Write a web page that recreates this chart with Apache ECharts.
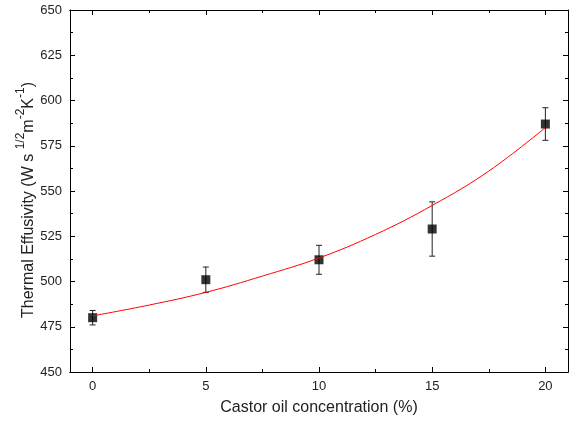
<!DOCTYPE html>
<html>
<head>
<meta charset="utf-8">
<script src="https://cdn.jsdelivr.net/npm/echarts@6/dist/echarts.min.js"></script>
<style>
  html, body { margin: 0; padding: 0; background: #fff; }
  #chart { width: 570px; height: 424px; }
</style>
</head>
<body>
<div id="chart"></div>
<script>
// measured points
var conc = [0, 5, 10, 15, 20];
var effusivity = [480, 501, 512, 529, 587];
var errLow = [476, 494, 504, 514, 578];
var errHigh = [484, 508, 520, 544, 596];

// fitted curve
var fitX = [0, 2.5, 5, 7.5, 10, 12.5, 15, 17.5, 20];
var fitY = [481, 487, 494, 503, 513, 526, 542, 561, 585];

var xMajor = [0, 5, 10, 15, 20];
var xMinor = [2.5, 7.5, 12.5, 17.5];

var font = 'Liberation Sans, Arial, sans-serif';

var points = [];
var bars = [];
for (var i = 0; i < conc.length; i++) {
  points.push([conc[i], effusivity[i]]);
  bars.push([conc[i], errLow[i], errHigh[i]]);
}
var fit = [];
for (var j = 0; j < fitX.length; j++) {
  fit.push([fitX[j], fitY[j]]);
}

var myChart = echarts.init(document.getElementById('chart'));

function xAx(pos, ticks, len, labels) {
  return {
    type: 'value', position: pos, min: -1, max: 21,
    axisLine: { show: true, onZero: false, lineStyle: { color: '#000', width: 1 } },
    axisTick: { show: true, inside: true, length: len, customValues: ticks, lineStyle: { color: '#000' } },
    axisLabel: { show: labels, customValues: ticks, margin: 8, fontSize: 13, color: '#222', fontFamily: font },
    splitLine: { show: false }
  };
}
function yAx(pos, labels) {
  return {
    type: 'value', position: pos, min: 450, max: 650, interval: 25,
    axisLine: { show: true, onZero: false, lineStyle: { color: '#000', width: 1 } },
    axisTick: { show: true, inside: true, length: 5, lineStyle: { color: '#000' } },
    minorTick: { show: true, splitNumber: 2, length: 3, lineStyle: { color: '#000' } },
    axisLabel: { show: labels, margin: 8, fontSize: 13, color: '#222', fontFamily: font },
    splitLine: { show: false }
  };
}

var xAxes = [xAx('bottom', xMajor, 5, true), xAx('bottom', xMinor, 3, false),
             xAx('top', xMajor, 5, false), xAx('top', xMinor, 3, false)];
xAxes[0].name = 'Castor oil concentration (%)';
xAxes[0].nameLocation = 'middle';
xAxes[0].nameGap = 28;
xAxes[0].nameTextStyle = { fontSize: 16, color: '#222', fontFamily: font };

var yAxes = [yAx('left', true), yAx('right', false)];
yAxes[0].name = '{n|Thermal Effusivity (W s }{s|1/2}{n|m}{s|-2}{n|K}{s|-1}{n|)}';
yAxes[0].nameLocation = 'middle';
yAxes[0].nameRotate = 90;
yAxes[0].nameGap = 33;
yAxes[0].nameMoveOverlap = false;
yAxes[0].nameTextStyle = {
  fontFamily: font, color: '#222',
  padding: [0, 18, 0, 0],
  rich: {
    n: { fontSize: 16, fontFamily: font, color: '#222', lineHeight: 22, verticalAlign: 'bottom' },
    s: { fontSize: 12, fontFamily: font, color: '#222', lineHeight: 22, verticalAlign: 'top' }
  }
};

var option = {
  animation: false,
  grid: { left: 70, right: 2, top: 10, bottom: 52 },
  xAxis: xAxes,
  yAxis: yAxes,
  series: [
    {
      name: 'error',
      type: 'custom',
      xAxisIndex: 0, yAxisIndex: 0,
      data: bars,
      encode: { x: 0, y: [1, 2] },
      z: 2,
      renderItem: function (params, api) {
        var x = api.value(0);
        var lo = api.coord([x, api.value(1)]);
        var hi = api.coord([x, api.value(2)]);
        var w = 3;
        var st = { stroke: '#222', lineWidth: 1 };
        return {
          type: 'group',
          children: [
            { type: 'line', shape: { x1: hi[0], y1: hi[1], x2: lo[0], y2: lo[1] }, style: st },
            { type: 'line', shape: { x1: hi[0] - w, y1: hi[1], x2: hi[0] + w, y2: hi[1] }, style: st },
            { type: 'line', shape: { x1: lo[0] - w, y1: lo[1], x2: lo[0] + w, y2: lo[1] }, style: st }
          ]
        };
      }
    },
    {
      name: 'data',
      type: 'scatter',
      xAxisIndex: 0, yAxisIndex: 0,
      symbol: 'rect',
      symbolSize: 9,
      itemStyle: { color: '#000' },
      data: points,
      z: 3
    },
    {
      name: 'fit',
      type: 'line',
      xAxisIndex: 0, yAxisIndex: 0,
      smooth: 0.4,
      showSymbol: false,
      lineStyle: { color: '#ff0000', width: 1 },
      data: fit,
      z: 4
    }
  ]
};
myChart.setOption(option);
</script>
</body>
</html>
